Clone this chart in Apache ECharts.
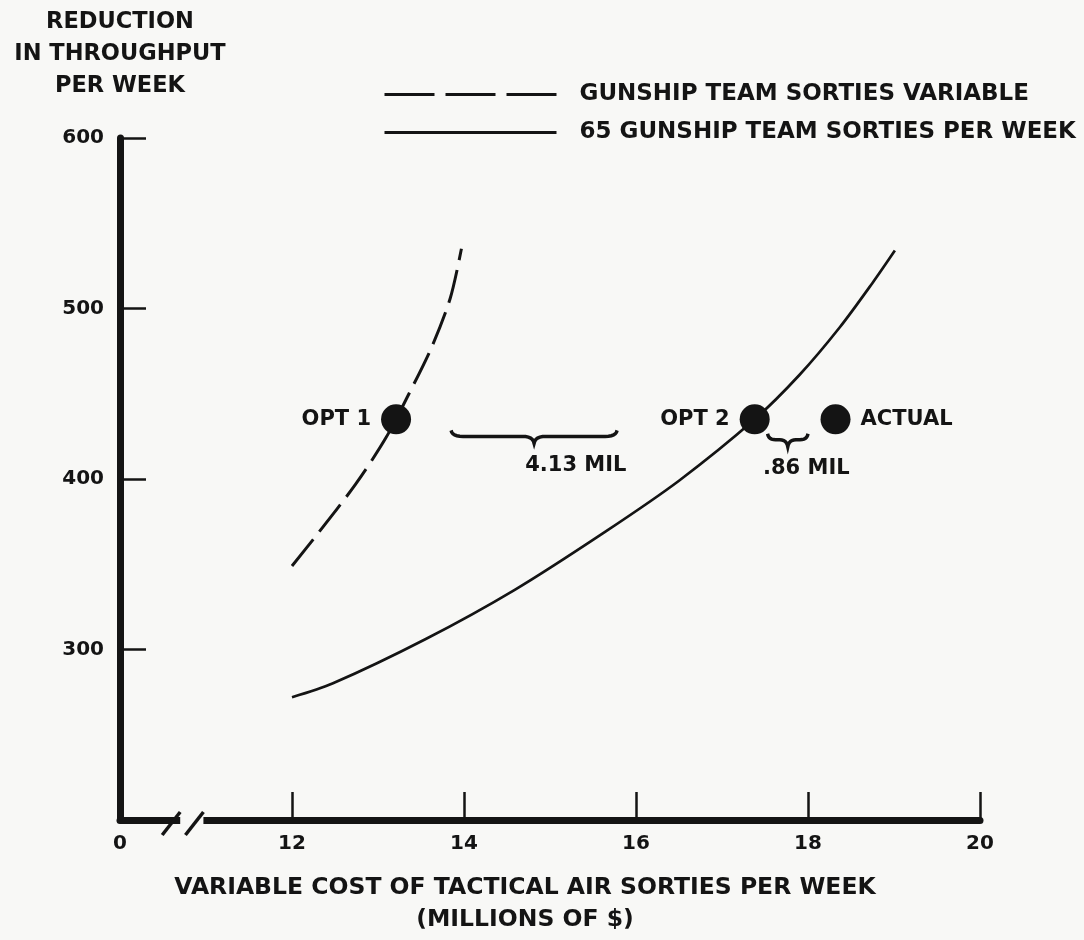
<!DOCTYPE html>
<html>
<head>
<meta charset="utf-8">
<title>Reduction in throughput per week</title>
<script src="https://cdn.jsdelivr.net/npm/echarts@6/dist/echarts.min.js"></script>
<style>
  html, body { margin: 0; padding: 0; background: #f8f8f6; }
  #main { width: 1084px; height: 940px; }
</style>
</head>
<body>
<div id="main"></div>
<script>
// cost in millions of $ -- the x axis is broken, 10 on the scale is drawn as "0"
const variableCost = [12.0, 12.3, 12.74, 13.09, 13.36, 13.63, 13.84, 13.97]
const variableReduction = [349, 368, 397, 424, 450, 478, 506, 535]
const fixedCost = [12.0, 12.47, 13.55, 14.59, 15.64, 16.5, 17.38, 17.9, 18.37, 18.75, 19.01]
const fixedReduction = [272, 280, 306, 335, 369, 399, 435, 461, 489, 515, 534]
const pointNames = ['OPT 1', 'OPT 2', 'ACTUAL']
const pointCost = [13.21, 17.38, 18.32]
const pointReduction = [435, 435, 435]
const braceFrom = [13.85, 17.53]
const braceTo = [15.78, 18.0]
const braceAt = [425, 423]
const braceText = ['4.13 MIL', '.86 MIL']
const braceTextAt = [15.3, 17.98]
const xTicks = [10, 12, 14, 16, 18, 20]
const xTickLabels = ['0', '12', '14', '16', '18', '20']
const yTicks = [300, 400, 500, 600]

const ink = '#141414'
const bg = '#f8f8f6'
const font = 'DejaVu Sans'

function quad (p0, p1, p2, n) {
  const pts = []
  for (let i = 0; i <= n; i++) {
    const t = i / n
    const a = (1 - t) * (1 - t)
    const b = 2 * (1 - t) * t
    const c = t * t
    pts.push([a * p0[0] + b * p1[0] + c * p2[0], a * p0[1] + b * p1[1] + c * p2[1]])
  }
  return pts
}

const chart = echarts.init(document.getElementById('main'))

const titles = [
  {
    id: 'ytitle',
    type: 'text',
    x: 120,
    y: 6,
    style: {
      text: 'REDUCTION\nIN THROUGHPUT\nPER WEEK',
      fontFamily: font,
      fontWeight: 'bold',
      fontSize: 22.5,
      lineHeight: 32,
      fill: ink,
      align: 'center',
      verticalAlign: 'top'
    }
  },
  {
    id: 'xtitle',
    type: 'text',
    x: 525,
    y: 872,
    style: {
      text: 'VARIABLE COST OF TACTICAL AIR SORTIES PER WEEK\n(MILLIONS OF $)',
      fontFamily: font,
      fontWeight: 'bold',
      fontSize: 23.5,
      lineHeight: 32,
      fill: ink,
      align: 'center',
      verticalAlign: 'top'
    }
  }
]

const option = {
  backgroundColor: bg,
  animation: false,
  textStyle: { fontFamily: font, color: ink },
  grid: { left: 120, right: 104, top: 138, bottom: 120 },
  legend: {
    orient: 'vertical',
    left: 383,
    top: 83,
    padding: 0,
    itemWidth: 172,
    itemHeight: 24,
    itemGap: 15,
    itemStyle: { opacity: 0 },
    data: [
      { name: 'GUNSHIP TEAM SORTIES VARIABLE', lineStyle: { type: [50, 11], width: 3 } },
      { name: '65 GUNSHIP TEAM SORTIES PER WEEK', lineStyle: { width: 3 } }
    ],
    textStyle: { fontFamily: font, fontWeight: 'bold', fontSize: 23, color: ink, padding: [0, 0, 0, 18] }
  },
  xAxis: {
    type: 'value',
    min: 10,
    max: 20,
    interval: 2,
    splitLine: { show: false },
    axisLine: { onZero: false, lineStyle: { color: ink, width: 7 } },
    axisTick: { inside: true, length: 28, lineStyle: { color: ink, width: 2.5 } },
    axisLabel: {
      margin: 14,
      fontFamily: font,
      fontWeight: 'bold',
      fontSize: 20,
      color: ink,
      showMinLabel: true,
      showMaxLabel: true,
      formatter: v => {
        const i = xTicks.indexOf(v)
        return i >= 0 ? xTickLabels[i] : ''
      }
    }
  },
  yAxis: {
    type: 'value',
    min: 200,
    max: 600,
    interval: 100,
    splitLine: { show: false },
    axisLine: { onZero: false, lineStyle: { color: ink, width: 7 } },
    axisTick: { inside: true, length: 26, lineStyle: { color: ink, width: 2.5 } },
    axisLabel: {
      margin: 16,
      fontFamily: font,
      fontWeight: 'bold',
      fontSize: 20,
      color: ink,
      formatter: v => (yTicks.includes(v) ? String(v) : '')
    }
  },
  series: [
    {
      name: 'GUNSHIP TEAM SORTIES VARIABLE',
      type: 'line',
      smooth: 0.3,
      symbol: 'none',
      lineStyle: { color: ink, width: 3, type: [34, 10] },
      itemStyle: { color: ink },
      data: variableCost.map((x, i) => [x, variableReduction[i]])
    },
    {
      name: '65 GUNSHIP TEAM SORTIES PER WEEK',
      type: 'line',
      smooth: 0.3,
      symbol: 'none',
      lineStyle: { color: ink, width: 2.7 },
      itemStyle: { color: ink },
      data: fixedCost.map((x, i) => [x, fixedReduction[i]])
    },
    {
      name: 'options',
      type: 'scatter',
      symbolSize: 30,
      z: 5,
      itemStyle: { color: ink, opacity: 1 },
      label: {
        show: true,
        distance: 10,
        fontFamily: font,
        fontWeight: 'bold',
        fontSize: 21,
        color: ink,
        formatter: p => p.name
      },
      data: pointNames.map((n, i) => ({
        name: n,
        value: [pointCost[i], pointReduction[i]],
        label: { position: n === 'ACTUAL' ? 'right' : 'left' }
      }))
    },
    {
      name: 'braces',
      type: 'custom',
      data: braceFrom.map((x, i) => [x, braceTo[i], braceAt[i], braceTextAt[i]]),
      renderItem: (params, api) => {
        const a = api.coord([api.value(0), api.value(2)])
        const b = api.coord([api.value(1), api.value(2)])
        const t = api.coord([api.value(3), api.value(2)])
        const y = a[1]
        const x1 = a[0]
        const x2 = b[0]
        const xm = (x1 + x2) / 2
        const e = Math.min(12, (x2 - x1) / 5)
        const pts = [].concat(
          quad([x1, y - 6], [x1 + 1, y], [x1 + e, y], 6),
          quad([xm - e, y], [xm - 1, y], [xm, y + 7], 6),
          quad([xm, y + 7], [xm + 1, y], [xm + e, y], 6),
          quad([x2 - e, y], [x2 - 1, y], [x2, y - 6], 6)
        )
        return {
          type: 'group',
          children: [
            { type: 'polyline', shape: { points: pts }, style: { fill: null, stroke: ink, lineWidth: 3.5 } },
            {
              type: 'text',
              x: t[0],
              y: y + 29,
              style: {
                text: braceText[params.dataIndex],
                fontFamily: font,
                fontWeight: 'bold',
                fontSize: 21,
                fill: ink,
                align: 'center',
                verticalAlign: 'middle'
              }
            }
          ]
        }
      }
    }
  ],
  graphic: titles
}

chart.setOption(option)

// axis break marks "/ /" between 0 and 12
const p1 = chart.convertToPixel({ gridIndex: 0 }, [10.7, 200])
const p2 = chart.convertToPixel({ gridIndex: 0 }, [10.97, 200])
const ay = p1[1]
chart.setOption({
  graphic: titles.concat([
    {
      id: 'gap',
      type: 'rect',
      z: 100,
      shape: { x: p1[0], y: ay - 6, width: p2[0] - p1[0], height: 12 },
      style: { fill: bg }
    },
    {
      id: 'slash1',
      type: 'line',
      z: 101,
      shape: { x1: p1[0], y1: ay - 8, x2: p1[0] - 18, y2: ay + 15 },
      style: { stroke: ink, lineWidth: 3.5 }
    },
    {
      id: 'slash2',
      type: 'line',
      z: 101,
      shape: { x1: p2[0], y1: ay - 8, x2: p2[0] - 18, y2: ay + 15 },
      style: { stroke: ink, lineWidth: 3.5 }
    }
  ])
})
</script>
</body>
</html>
